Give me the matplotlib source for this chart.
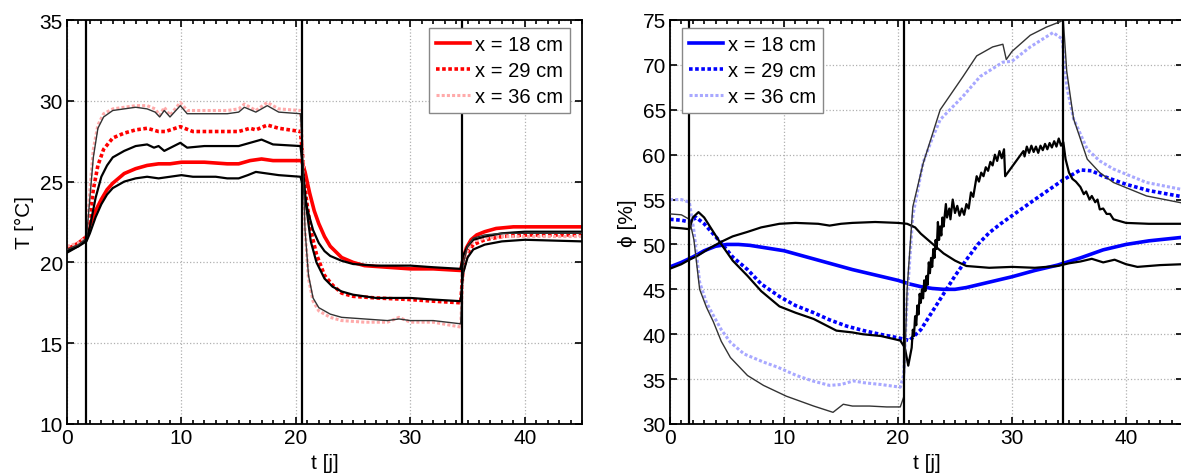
import matplotlib
matplotlib.use("Agg")
import matplotlib.pyplot as plt
import numpy as np
from matplotlib.ticker import MultipleLocator

plt.rcParams['font.family'] = ['Liberation Sans', 'DejaVu Sans']

# temperature, simulated (t [j], T [°C])
T_sim_18 = np.array([
    [0, 20.8], [0.5, 21.0], [1, 21.2], [1.7, 21.6], [2, 22.3], [2.5, 23.2], [3, 23.9], [3.5, 24.5],
    [4, 24.9], [5, 25.5], [6, 25.8], [7, 26.0], [8, 26.1], [9, 26.1], [10, 26.2], [12, 26.2],
    [14, 26.1], [15, 26.1], [16, 26.3], [17, 26.4], [18, 26.3], [19, 26.3], [20.5, 26.3],
    [20.8, 25.6], [21.2, 24.3], [21.6, 23.2], [22, 22.4], [22.5, 21.6], [23, 21.0], [24, 20.3],
    [25, 20.0], [26, 19.8], [28, 19.7], [30, 19.6], [32, 19.6], [34.4, 19.5], [34.6, 20.2],
    [34.9, 20.9], [35.3, 21.4], [35.8, 21.7], [36.5, 21.9], [37.5, 22.1], [39, 22.2], [41, 22.2],
    [45, 22.2]])
T_sim_29 = np.array([
    [0, 20.9], [1, 21.1], [1.7, 21.5], [2, 22.8], [2.3, 24.5], [2.7, 26.0], [3.2, 27.0], [4, 27.7],
    [5, 28.0], [6, 28.2], [7, 28.3], [8, 28.1], [8.6, 28.1], [9.9, 28.4], [11, 28.1], [13, 28.1],
    [15, 28.1], [16, 28.3], [16.5, 28.2], [17.5, 28.5], [18.5, 28.3], [20.4, 28.1], [20.6, 26.5],
    [20.9, 24.0], [21.3, 22.0], [21.8, 20.5], [22.5, 19.2], [23.2, 18.6], [24, 18.1], [25, 17.9],
    [27, 17.8], [30, 17.7], [32, 17.6], [34.4, 17.5], [34.6, 19.5], [35, 20.6], [35.5, 21.1],
    [36.5, 21.4], [38, 21.6], [40, 21.7], [45, 21.7]])
T_sim_36 = np.array([
    [0, 21.0], [1, 21.2], [1.7, 21.6], [2, 24.5], [2.3, 27.0], [2.7, 28.5], [3.2, 29.2], [4, 29.5],
    [5, 29.6], [6, 29.7], [7, 29.7], [7.7, 29.5], [8.1, 29.1], [8.5, 29.6], [9, 29.1], [9.9, 29.9],
    [10.5, 29.4], [12, 29.4], [14, 29.4], [15, 29.5], [15.5, 29.8], [16.5, 29.4], [17.5, 29.9],
    [18.5, 29.5], [20.4, 29.4], [20.6, 27.0], [20.8, 22.0], [21.1, 19.0], [21.5, 17.6], [22, 17.0],
    [23, 16.6], [24, 16.4], [26, 16.3], [28, 16.3], [29, 16.6], [30, 16.3], [32, 16.3], [34.4, 16.0],
    [34.6, 19.5], [35, 20.8], [35.5, 21.3], [36.5, 21.5], [38, 21.6], [40, 21.6], [45, 21.6]])

# temperature, measured
T_mes_18 = np.array([
    [0, 20.6], [1, 21.0], [1.7, 21.3], [2, 21.8], [2.5, 22.8], [3, 23.6], [3.5, 24.2], [4, 24.6],
    [5, 25.0], [6, 25.2], [7, 25.3], [8, 25.2], [9, 25.3], [10, 25.4], [11, 25.3], [12, 25.3],
    [13, 25.3], [14, 25.2], [15, 25.2], [15.8, 25.4], [16.5, 25.6], [17.5, 25.5], [18.5, 25.4],
    [20.4, 25.3], [20.7, 24.5], [21, 23.3], [21.5, 22.0], [22, 21.2], [22.5, 20.7], [23, 20.4],
    [24, 20.1], [25, 19.9], [27, 19.8], [30, 19.8], [32, 19.7], [34.4, 19.6], [34.6, 20.4],
    [35, 21.0], [35.5, 21.4], [36.5, 21.6], [38, 21.8], [40, 21.9], [45, 21.9]])
T_mes_29 = np.array([
    [0, 20.7], [1, 21.0], [1.7, 21.4], [2, 22.2], [2.5, 24.0], [3, 25.3], [3.5, 26.0], [4, 26.5],
    [5, 26.9], [6, 27.2], [7, 27.3], [7.6, 27.1], [8, 27.2], [8.5, 26.9], [9.9, 27.4], [10.5, 27.1],
    [12, 27.2], [14, 27.2], [15, 27.2], [16, 27.4], [17, 27.6], [18, 27.3], [20.4, 27.2],
    [20.6, 26.0], [20.9, 23.5], [21.3, 21.3], [21.8, 20.0], [22.5, 19.0], [23.2, 18.5], [24, 18.2],
    [25, 18.0], [27, 17.8], [30, 17.8], [32, 17.7], [34.4, 17.6], [34.6, 19.3], [35, 20.3],
    [35.5, 20.8], [36.5, 21.1], [38, 21.3], [40, 21.4], [45, 21.3]])
T_mes_36 = np.array([
    [0, 20.8], [1, 21.1], [1.7, 21.5], [2, 24.0], [2.3, 26.5], [2.7, 28.3], [3.2, 29.0], [4, 29.4],
    [5, 29.5], [6, 29.6], [7, 29.5], [7.7, 29.3], [8.1, 29.0], [8.5, 29.4], [9, 29.0], [9.9, 29.7],
    [10.5, 29.2], [12, 29.2], [14, 29.2], [15, 29.3], [15.5, 29.6], [16.5, 29.3], [17.5, 29.7],
    [18.5, 29.3], [20.4, 29.2], [20.6, 26.5], [20.8, 22.0], [21.1, 19.2], [21.5, 17.8], [22, 17.2],
    [23, 16.8], [24, 16.6], [26, 16.5], [28, 16.4], [29, 16.5], [30, 16.4], [32, 16.4], [34.4, 16.2],
    [34.6, 19.8], [35, 21.0], [35.5, 21.5], [36.5, 21.7], [38, 21.8], [40, 21.8], [45, 21.8]])

# relative humidity, simulated (t [j], phi [%])
H_sim_18 = np.array([
    [0, 47.5], [1, 48.0], [2, 48.6], [3, 49.3], [4, 49.8], [5, 50.0], [6, 50.0], [7, 49.9],
    [8, 49.7], [10, 49.3], [12, 48.6], [14, 47.9], [16, 47.2], [18, 46.6], [20, 46.0], [21, 45.6],
    [22, 45.3], [23, 45.1], [24, 45.0], [25, 45.0], [26, 45.2], [28, 45.8], [30, 46.4], [32, 47.1],
    [34, 47.7], [36, 48.5], [38, 49.4], [40, 50.0], [42, 50.4], [45, 50.8]])
H_sim_29 = np.array([
    [0, 52.8], [1, 52.7], [1.7, 52.5], [2.3, 53.0], [3, 52.3], [4.4, 50.3], [5.5, 48.6], [6.8, 47.2],
    [8, 45.6], [9.6, 44.2], [11, 43.2], [12.6, 42.4], [14, 41.6], [15.5, 40.9], [17, 40.4],
    [18.4, 40.0], [20, 39.6], [21, 39.3], [22, 40.5], [23, 42.5], [24, 44.5], [25, 46.5], [26, 48.3],
    [27, 50.0], [28, 51.3], [29, 52.3], [30, 53.2], [32, 55.0], [34.5, 57.2], [36, 58.3], [37, 58.2],
    [38, 57.6], [40, 56.7], [42, 56.0], [45, 55.3]])
H_sim_36 = np.array([
    [0, 55.0], [1, 55.0], [1.7, 54.7], [2.1, 51.5], [2.6, 45.8], [3.2, 43.5], [3.8, 42.1], [4.5, 40.5],
    [5.3, 39.1], [6.5, 37.8], [8.2, 36.9], [9.5, 36.3], [11.1, 35.4], [12.5, 34.8], [14, 34.3],
    [15, 34.4], [16.1, 34.8], [17, 34.6], [18.5, 34.4], [20.2, 34.1], [20.5, 35.5], [20.8, 44.0],
    [21.3, 53.2], [22.2, 59.1], [23, 61.8], [23.7, 63.9], [25.7, 66.5], [27.2, 68.7], [29.2, 70.3],
    [30, 70.4], [31.6, 72.0], [33.6, 73.6], [34.4, 72.9], [34.8, 67.6], [35.4, 64.0], [36.6, 60.6],
    [37.7, 59.3], [38.9, 58.4], [41.8, 56.9], [45, 56.1]])

# relative humidity, measured
H_mes_18 = np.array([
    [0, 47.3], [1, 47.8], [1.7, 48.3], [2.5, 48.8], [3.5, 49.6], [4.5, 50.3], [5.5, 50.9], [6.8, 51.4],
    [8, 51.9], [9.6, 52.3], [11, 52.4], [13, 52.3], [14, 52.1], [15, 52.3], [16, 52.4], [18, 52.5],
    [20, 52.4], [20.8, 52.3], [21.5, 51.9], [22, 51.2], [23, 50.1], [24, 49.0], [25, 48.2], [26, 47.6],
    [28, 47.4], [30, 47.5], [32, 47.4], [34, 47.6], [35, 47.9], [36, 48.1], [37, 48.4], [38, 48.0],
    [39, 48.3], [40, 47.8], [41, 47.5], [43, 47.7], [45, 47.8]])
H_mes_29 = np.array([
    [0, 51.9], [1, 51.8], [1.7, 51.7], [2.0, 53.0], [2.5, 53.6], [3, 53.0], [4.4, 50.2], [5.5, 48.2],
    [6.8, 46.5], [8, 44.8], [9.6, 43.1], [11, 42.4], [12.6, 41.7], [14.6, 40.4], [16, 40.2],
    [16.9, 40.0], [18.5, 39.8], [20.2, 39.3], [20.6, 38.5], [20.9, 36.5], [21.2, 38.5], [21.3, 40.5],
    [21.4, 39.8], [21.5, 42.0], [21.6, 41.0], [21.7, 43.2], [21.8, 42.2], [21.9, 44.5], [22.0, 43.5],
    [22.1, 45.0], [22.2, 44.0], [22.3, 46.0], [22.4, 44.8], [22.5, 46.5], [22.6, 45.5], [22.7, 48.0],
    [22.8, 46.8], [22.9, 48.5], [23.0, 47.5], [23.1, 49.5], [23.2, 48.5], [23.3, 50.5], [23.4, 49.5],
    [23.5, 52.5], [23.6, 50.5], [23.7, 52.0], [23.8, 51.0], [23.9, 53.0], [24.0, 52.0], [24.2, 54.5],
    [24.3, 53.0], [24.5, 54.0], [24.6, 52.8], [24.8, 55.0], [25.0, 53.5], [25.2, 54.3], [25.4, 53.2],
    [25.6, 54.0], [25.8, 53.3], [26.0, 54.5], [26.2, 54.0], [26.4, 55.8], [26.6, 55.3], [26.9, 57.6],
    [27.1, 57.0], [27.3, 58.0], [27.5, 57.6], [27.7, 58.6], [27.9, 58.2], [28.1, 59.2], [28.3, 58.8],
    [28.5, 60.0], [28.7, 59.3], [28.9, 60.4], [29.1, 59.6], [29.3, 60.6], [29.4, 57.6], [31.0, 60.4],
    [31.1, 59.8], [31.3, 60.9], [31.5, 60.2], [31.7, 61.0], [31.9, 60.3], [32.1, 60.9], [32.3, 60.2],
    [32.5, 61.0], [32.7, 60.5], [32.9, 61.2], [33.1, 60.6], [33.3, 61.3], [33.5, 60.8], [33.7, 61.5],
    [33.9, 60.9], [34.1, 61.8], [34.3, 61.0], [34.5, 61.4], [34.7, 59.5], [35.0, 58.0], [35.3, 57.3],
    [35.6, 57.0], [36, 56.4], [36.3, 55.6], [36.5, 55.9], [36.8, 55.0], [37.0, 55.4], [37.3, 54.7],
    [37.5, 55.0], [37.7, 53.9], [38.0, 54.0], [38.3, 53.4], [38.6, 53.4], [38.9, 52.8], [40, 52.4],
    [42, 52.3], [45, 52.3]])
H_mes_36 = np.array([
    [0, 53.4], [1, 53.3], [1.7, 52.8], [2.1, 50.5], [2.6, 45.0], [3.2, 43.0], [3.8, 41.4], [4.5, 39.2],
    [5.3, 37.4], [6.8, 35.4], [8.2, 34.3], [10.2, 33.1], [12.6, 32.0], [14.3, 31.3], [15.2, 32.2],
    [16, 32.0], [17.5, 32.0], [19, 31.9], [20.2, 31.9], [20.5, 33.0], [20.8, 45.0], [21.3, 54.2],
    [22.2, 59.0], [23.7, 65.0], [25.7, 68.7], [26.9, 71.0], [28.3, 72.0], [29.2, 72.3], [29.5, 70.6],
    [30, 71.5], [31.6, 73.3], [33, 74.2], [34.2, 74.8], [34.5, 75.0], [34.8, 69.3], [35.4, 64.0],
    [36.6, 59.5], [37.7, 58.0], [38.9, 56.9], [41.8, 55.4], [45, 54.6]])

labels = ['x = 18 cm', 'x = 29 cm', 'x = 36 cm']
phase_changes = [1.7, 20.5, 34.5]

fig = plt.figure(figsize=(11.81, 4.77), dpi=100)
ax1 = fig.add_axes([67 / 1181, 52 / 477, 515 / 1181, 404 / 477])
ax2 = fig.add_axes([670 / 1181, 52 / 477, 513 / 1181, 404 / 477])

dots = (0, (1, 0.7))


def style(ax, ylim, ylabel):
    ax.set_xlim(0, 45)
    ax.set_ylim(*ylim)
    ax.xaxis.set_major_locator(MultipleLocator(10))
    ax.xaxis.set_minor_locator(MultipleLocator(1))
    ax.yaxis.set_major_locator(MultipleLocator(5))
    ax.tick_params(which='both', direction='in', top=True, right=True, labelsize=15, width=1.2)
    ax.tick_params(which='major', length=5, pad=3)
    ax.tick_params(which='minor', length=3)
    ax.grid(True, which='major', ls=':', color='#b0b0b0', lw=0.9)
    for sp in ax.spines.values():
        sp.set_linewidth(1.3)
    ax.set_xlabel('t [j]', fontsize=15, labelpad=4)
    ax.set_ylabel(ylabel, fontsize=15, labelpad=4)
    for tc in phase_changes:
        ax.axvline(tc, color='k', lw=1.6, zorder=5)


# left: temperature
for d, lw, c in [(T_mes_18, 1.6, 'k'), (T_mes_29, 1.6, 'k'), (T_mes_36, 1.0, '#333333')]:
    ax1.plot(d[:, 0], d[:, 1], color=c, lw=lw, zorder=3)
ax1.plot(T_sim_18[:, 0], T_sim_18[:, 1], color='#ff0000', lw=2.6, label=labels[0], zorder=2)
ax1.plot(T_sim_29[:, 0], T_sim_29[:, 1], color='#ff0000', lw=2.6, ls=dots, label=labels[1], zorder=2)
ax1.plot(T_sim_36[:, 0], T_sim_36[:, 1], color='#ffaaaa', lw=2.2, ls=dots, label=labels[2], zorder=2)
style(ax1, (10, 35), 'T [°C]')
leg1 = ax1.legend(loc='upper right', bbox_to_anchor=(0.977, 0.980), borderaxespad=0,
                  fontsize=14.5, handlelength=1.7, handletextpad=0.25, labelspacing=0.35,
                  borderpad=0.35, fancybox=False, framealpha=1, edgecolor='#888888')
leg1.set_zorder(10)

# right: relative humidity
for d, lw, c in [(H_mes_18, 1.6, 'k'), (H_mes_29, 1.6, 'k'), (H_mes_36, 1.0, '#333333')]:
    ax2.plot(d[:, 0], d[:, 1], color=c, lw=lw, zorder=3)
ax2.plot(H_sim_18[:, 0], H_sim_18[:, 1], color='#0000ff', lw=2.6, label=labels[0], zorder=2)
ax2.plot(H_sim_29[:, 0], H_sim_29[:, 1], color='#0000ff', lw=2.6, ls=dots, label=labels[1], zorder=2)
ax2.plot(H_sim_36[:, 0], H_sim_36[:, 1], color='#a8a8ff', lw=2.2, ls=dots, label=labels[2], zorder=2)
style(ax2, (30, 75), 'ϕ [%]')
leg2 = ax2.legend(loc='upper left', bbox_to_anchor=(0.023, 0.980), borderaxespad=0,
                  fontsize=14.5, handlelength=1.7, handletextpad=0.25, labelspacing=0.35,
                  borderpad=0.35, fancybox=False, framealpha=1, edgecolor='#888888')
leg2.set_zorder(10)

fig.savefig('out.png', dpi=100)
